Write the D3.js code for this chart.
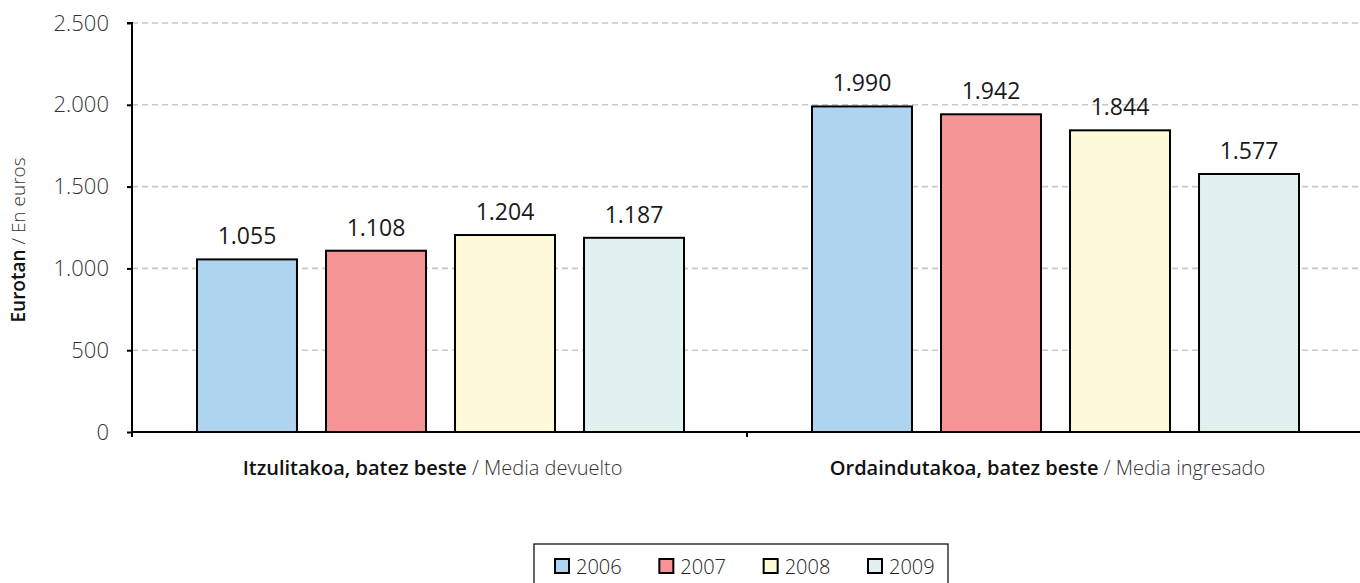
<!DOCTYPE html>
<html><head><meta charset="utf-8">
<script src="https://cdn.jsdelivr.net/npm/d3@7"></script>
<style>body{margin:0;background:#fff;} svg{display:block;font-family:"Open Sans",sans-serif;}</style>
</head><body>
<svg id="c" width="1360" height="583"></svg>
<script>
const categoriesBold = ["Itzulitakoa, batez beste", "Ordaindutakoa, batez beste"];
const categoriesLight = ["Media devuelto", "Media ingresado"];
const years = ["2006", "2007", "2008", "2009"];
const v2006 = [1055, 1990];
const v2007 = [1108, 1942];
const v2008 = [1204, 1844];
const v2009 = [1187, 1577];
const yTicks = [0, 500, 1000, 1500, 2000, 2500];
const colors = ["#AED4F0", "#F59494", "#FEF9D7", "#E1F1F0"];

const series = [v2006, v2007, v2008, v2009];
const svg = d3.select("#c");
const L = 132, R = 1360, T = 23, B = 432;
const fmt = v => d3.format(",")(v).replace(/,/g, ".");

const y = d3.scaleLinear().domain([0, 2500]).range([B, T]);
const x0 = d3.scaleBand().domain(d3.range(categoriesBold.length)).range([L, R + 2]).paddingInner(0).paddingOuter(0);
const x1 = d3.scaleBand().domain(years).range([65, 65 + 487]).paddingInner(0.225).paddingOuter(0);

// gridlines
svg.append("g").selectAll("line").data(yTicks.filter(d => d > 0)).join("line")
  .attr("x1", L).attr("x2", R).attr("y1", d => y(d)).attr("y2", d => y(d))
  .attr("stroke", "#c8c8c8").attr("stroke-width", 1.6).attr("stroke-dasharray", "6,4");

// bars
const g = svg.append("g");
categoriesBold.forEach((c, ci) => {
  years.forEach((yr, si) => {
    const v = series[si][ci];
    const bx = x0(ci) + x1(yr);
    g.append("rect").attr("x", bx).attr("y", y(v)).attr("width", x1.bandwidth()).attr("height", B - y(v))
      .attr("fill", colors[si]).attr("stroke", "#000").attr("stroke-width", 2);
    g.append("text").attr("x", bx + x1.bandwidth() / 2).attr("y", y(v) - 15)
      .attr("text-anchor", "middle").attr("font-size", 23).attr("fill", "#1a1a1a").text(fmt(v));
  });
});

// y axis
const yAxis = d3.axisLeft(y).tickValues(yTicks).tickFormat(fmt).tickSize(5).tickPadding(18);
const ya = svg.append("g").attr("transform", `translate(${L},0)`).call(yAxis);
ya.select(".domain").attr("d", `M-5,${T}H0V${B + 5}`).attr("stroke", "#000").attr("stroke-width", 2);
ya.selectAll(".tick line").attr("stroke", "#000").attr("stroke-width", 2);
ya.selectAll(".tick text").attr("font-size", 22).attr("fill", "#333").attr("font-family", "'Open Sans', sans-serif").attr("font-weight", 300);

// x axis
svg.append("line").attr("x1", L).attr("x2", R).attr("y1", B).attr("y2", B).attr("stroke", "#000").attr("stroke-width", 2);
svg.append("line").attr("x1", x0(1)).attr("x2", x0(1)).attr("y1", B).attr("y2", B + 5).attr("stroke", "#000").attr("stroke-width", 2);

categoriesBold.forEach((c, ci) => {
  const t = svg.append("text").attr("x", x0(ci) + x0.bandwidth() / 2 - 7).attr("y", 475)
    .attr("text-anchor", "middle").attr("font-size", 20).attr("fill", "#111");
  t.append("tspan").attr("font-weight", 600).text(c);
  t.append("tspan").attr("font-weight", 300).attr("fill", "#333").text(" / " + categoriesLight[ci]);
});

// y title
const yt = svg.append("text").attr("transform", "translate(25,240) rotate(-90)").attr("text-anchor", "middle")
  .attr("font-size", 19).attr("fill", "#111");
yt.append("tspan").attr("font-weight", 600).text("Eurotan");
yt.append("tspan").attr("font-weight", 300).attr("fill", "#333").text(" / En euros");

// legend
const lg = svg.append("g");
lg.append("rect").attr("x", 534).attr("y", 544).attr("width", 414).attr("height", 45)
  .attr("fill", "#fff").attr("stroke", "#000").attr("stroke-width", 1.2);
const legX = d3.scalePoint().domain(years).range([555, 868]);
years.forEach((yr, i) => {
  lg.append("rect").attr("x", legX(yr)).attr("y", 559).attr("width", 14).attr("height", 14)
    .attr("fill", colors[i]).attr("stroke", "#000").attr("stroke-width", 2);
  lg.append("text").attr("x", legX(yr) + 21).attr("y", 574).attr("font-size", 20).attr("font-weight", 300)
    .attr("fill", "#222").text(yr);
});
</script>
</body></html>
